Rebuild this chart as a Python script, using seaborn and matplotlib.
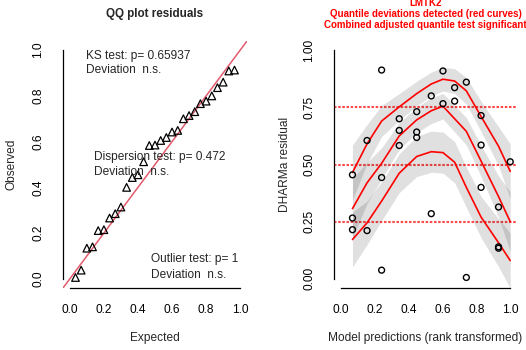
import numpy as np
import matplotlib
matplotlib.use("Agg")
import matplotlib.pyplot as plt
import seaborn as sns

# scaled residuals and rank-transformed model predictions
pred_rank = [0.241, 0.603, 0.741, 0.672, 0.534, 0.603, 0.672, 0.448, 0.345, 0.828,
             0.345, 0.448, 0.448, 0.155, 0.345, 0.828, 1.000, 0.069, 0.241, 0.828,
             0.931, 0.534, 0.069, 0.069, 0.155, 0.931, 0.931, 0.241, 0.741]
residuals = [0.913, 0.909, 0.860, 0.836, 0.800, 0.766, 0.777, 0.731, 0.700, 0.714,
             0.649, 0.642, 0.618, 0.605, 0.583, 0.585, 0.512, 0.455, 0.443, 0.400,
             0.314, 0.285, 0.266, 0.215, 0.211, 0.134, 0.140, 0.038, 0.006]

# fitted quantile curves (0.25, 0.5, 0.75) and their standard errors
curve_x = [0.069, 0.155, 0.241, 0.345, 0.448, 0.534, 0.603, 0.672, 0.741, 0.828, 0.931, 1.000]
q75_fit = [0.465, 0.590, 0.690, 0.752, 0.810, 0.852, 0.873, 0.865, 0.822, 0.710, 0.580, 0.470]
q50_fit = [0.307, 0.420, 0.505, 0.625, 0.695, 0.735, 0.755, 0.700, 0.645, 0.515, 0.360, 0.250]
q25_fit = [0.172, 0.245, 0.340, 0.462, 0.535, 0.556, 0.552, 0.510, 0.400, 0.270, 0.158, 0.080]
q75_se = [0.120, 0.085, 0.068, 0.058, 0.054, 0.052, 0.052, 0.054, 0.058, 0.066, 0.085, 0.120]
q50_se = [0.130, 0.090, 0.068, 0.058, 0.056, 0.056, 0.056, 0.058, 0.060, 0.068, 0.090, 0.130]
q25_se = [0.120, 0.095, 0.085, 0.085, 0.088, 0.090, 0.090, 0.090, 0.088, 0.090, 0.105, 0.120]

quantile_levels = [0.25, 0.5, 0.75]
ticks_unit = [0.0, 0.2, 0.4, 0.6, 0.8, 1.0]
ticks_resid = [0.0, 0.25, 0.5, 0.75, 1.0]

ks_text = ["KS test: p= 0.65937", "Deviation  n.s."]
disp_text = ["Dispersion test: p= 0.472", "Deviation  n.s."]
out_text = ["Outlier test: p= 1", "Deviation  n.s."]

sns.set_style("white")
plt.rcParams["font.family"] = ["Liberation Sans", "DejaVu Sans"]

W, H = 526, 350
fig = plt.figure(figsize=(W / 100, H / 100), dpi=100)


def px_axes(x0, x1, y0, y1):
    return fig.add_axes([x0 / W, 1 - y1 / H, (x1 - x0) / W, (y1 - y0) / H])


def r_style(ax, yticks, ylabels):
    ax.set_xlim(-0.04, 1.04)
    ax.set_ylim(-0.04, 1.04)
    for s in ["top", "right"]:
        ax.spines[s].set_visible(False)
    for s in ["left", "bottom"]:
        ax.spines[s].set_color("black")
        ax.spines[s].set_linewidth(0.9)
    ax.spines["bottom"].set_bounds(0, 1)
    ax.spines["left"].set_bounds(0, 1)
    ax.set_xticks(ticks_unit)
    ax.set_xticklabels([f"{t:.1f}" for t in ticks_unit])
    ax.set_yticks(yticks)
    ax.set_yticklabels(ylabels, rotation=90, va="center")
    ax.tick_params(axis="both", direction="out", length=4.5, width=0.9,
                   color="black", labelsize=8.6, labelcolor="black")
    ax.tick_params(axis="x", pad=7)
    ax.tick_params(axis="y", pad=9)
    ax.set_xlabel("")
    ax.set_ylabel("")
    ax.grid(False)


# ---- QQ plot of residuals ----
ax1 = px_axes(63, 247, 41, 288)
obs_sorted = np.sort(residuals)
n = len(obs_sorted)
expected = np.arange(1, n + 1) / (n + 1)
ax1.axline((0, 0), (1, 1), color="#e35a6c", lw=1.1, zorder=1)
sns.scatterplot(x=expected, y=obs_sorted, ax=ax1, marker="^", s=30,
                facecolor="none", edgecolor="black", linewidth=0.9, zorder=3)
r_style(ax1, ticks_unit, [f"{t:.1f}" for t in ticks_unit])


def legend_block(lines, x_px, y_px):
    for i, t in enumerate(lines):
        fig.text(x_px / W, 1 - (y_px[i]) / H, t, fontsize=8.6, ha="left", va="center")


legend_block(ks_text, 86, [56, 70])
legend_block(disp_text, 94, [157, 172])
legend_block(out_text, 151, [259, 275])

fig.text(155 / W, 1 - 14 / H, "QQ plot residuals", fontsize=8.4, fontweight="bold",
         ha="center", va="center")
fig.text(155 / W, 1 - 338 / H, "Expected", fontsize=8.6, ha="center", va="center")
fig.text(12 / W, 1 - 164.5 / H, "Observed", fontsize=8.6, ha="center", va="center",
         rotation=90)

# ---- residuals vs predictions ----
ax2 = px_axes(334, 517, 41, 288)
for q in quantile_levels:
    ax2.axhline(q, color="#ff2a2a", lw=1.5, ls=(0, (1.2, 0.8)), alpha=0.85, zorder=1)

fits = [q25_fit, q50_fit, q75_fit]
ses = [q25_se, q50_se, q75_se]
cx = np.array(curve_x)
for fit, se in zip(fits, ses):
    fit = np.array(fit)
    se = np.array(se)
    ax2.fill_between(cx, fit - se, fit + se, color="black", alpha=0.12, lw=0, zorder=2)
for fit in fits:
    sns.lineplot(x=curve_x, y=fit, ax=ax2, color="red", lw=1.2, sort=False,
                 estimator=None, zorder=3)

sns.scatterplot(x=pred_rank, y=residuals, ax=ax2, marker="o", s=18,
                facecolor="none", edgecolor="black", linewidth=1.0, zorder=4)
r_style(ax2, ticks_resid, [f"{t:.2f}" for t in ticks_resid])

red_titles = ["LMTK2", "Quantile deviations detected (red curves)",
              "Combined adjusted quantile test significant"]
for i, t in enumerate(red_titles):
    fig.text(425.5 / W, 1 - (2.8 + 11 * i) / H, t, fontsize=7.0, fontweight="bold",
             color="red", ha="center", va="center")
fig.text(425.5 / W, 1 - 338 / H, "Model predictions (rank transformed)", fontsize=8.6,
         ha="center", va="center")
fig.text(285.5 / W, 1 - 164.5 / H, "DHARMa residual", fontsize=8.6, ha="center",
         va="center", rotation=90)

fig.savefig("out.png", dpi=100)
